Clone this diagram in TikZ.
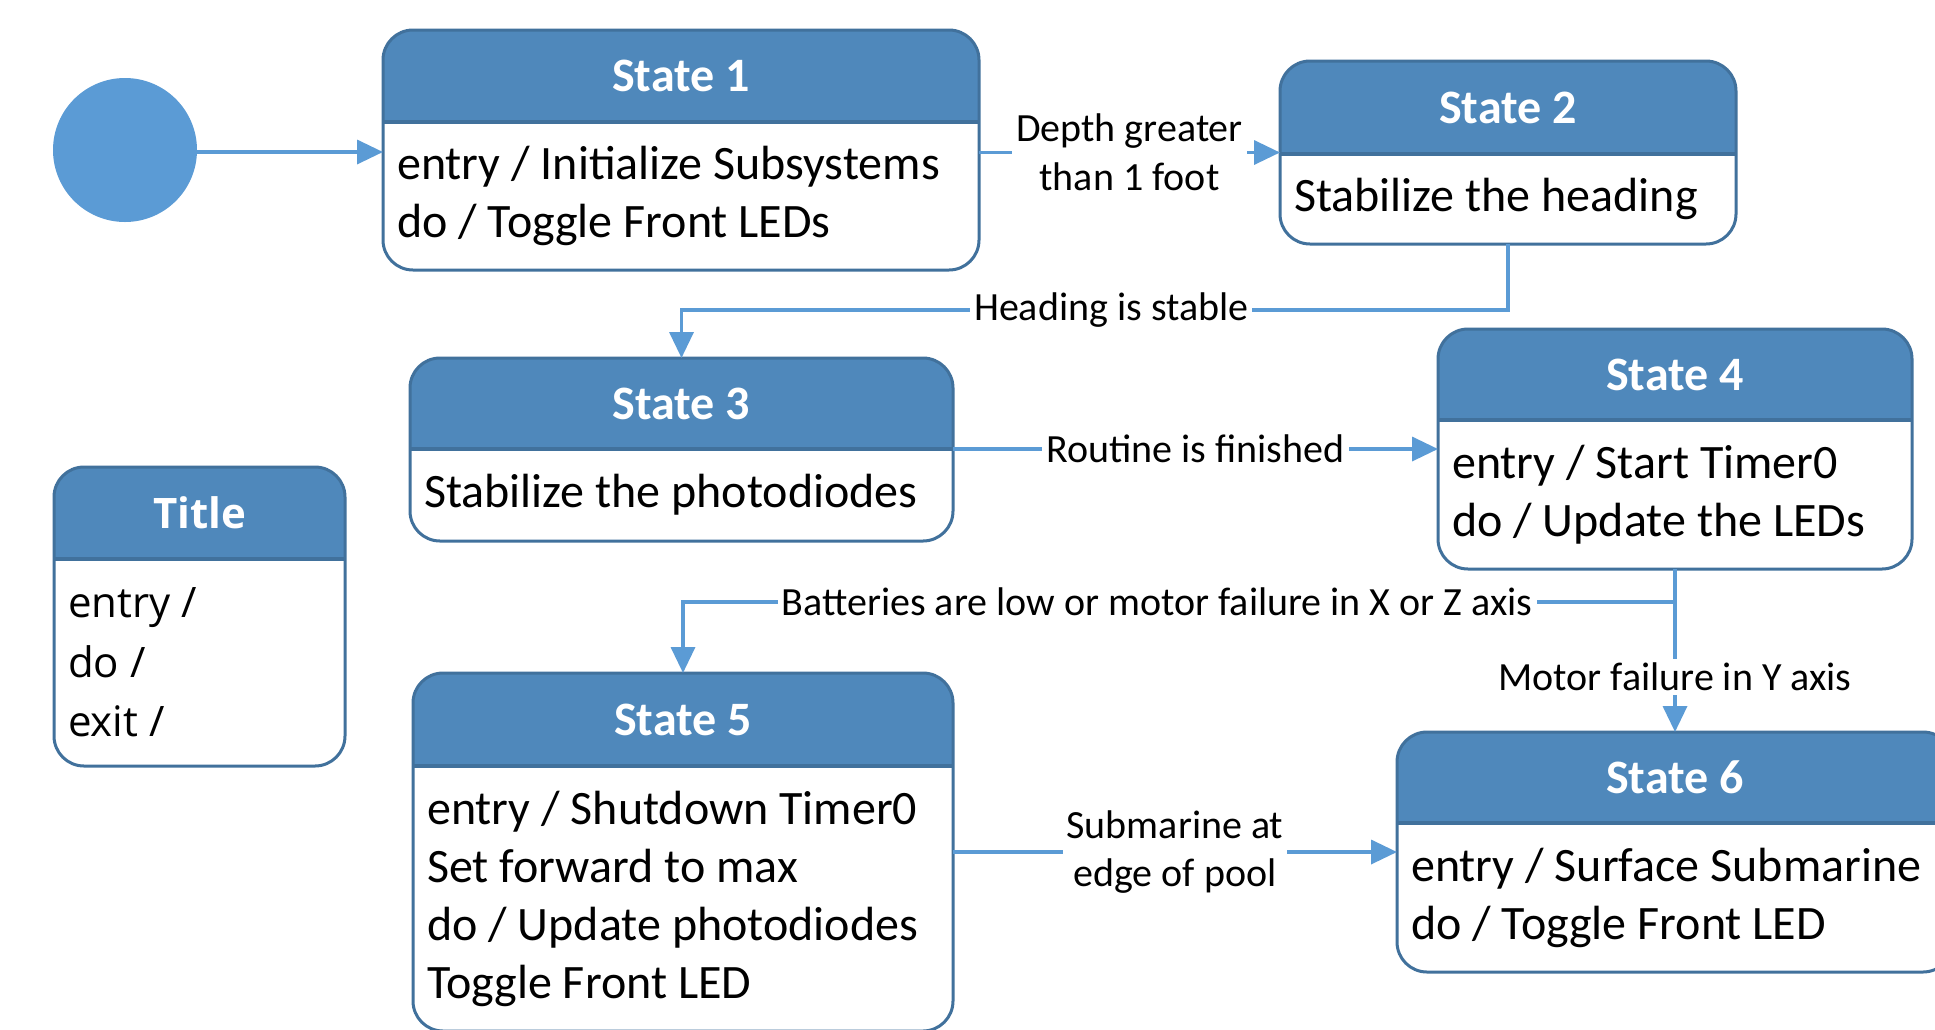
\documentclass[tikz,border=0pt]{standalone}
\usepackage{fontspec}
\setmainfont{Carlito}
\newfontfamily\tfont{Open Sans}
\usetikzlibrary{arrows.meta}
\definecolor{hdr}{HTML}{4F88BB}
\definecolor{bdc}{HTML}{41719C}
\definecolor{lnc}{HTML}{5B9BD5}
\def\rad{30pt}
\tikzset{
  sbox/.style={rectangle, fill=white, rounded corners=\rad, inner sep=0pt, outer sep=0pt},
  s-head/.style={text=white, inner sep=0pt, font=\fontsize{48}{58}\selectfont\bfseries},
  s-body/.style={align=left, inner sep=0pt, font=\fontsize{48}{58}\selectfont},
  t-head/.style={text=white, inner sep=0pt, font=\tfont\fontsize{42}{59.5}\selectfont\bfseries},
  t-body/.style={align=left, inner sep=0pt, font=\tfont\fontsize{42}{59.5}\selectfont},
  arr/.style={draw=lnc, line width=3.5pt, -{Triangle[length=26pt,width=24pt]}},
  lbl/.style={fill=white, inner sep=4pt, align=center, font=\fontsize{40}{48.5}\selectfont},
}
\newcommand\umlstate[9]{%
  \node[sbox, minimum width={(#4-#2)*1pt}, minimum height={(#5-#3)*1pt}] (#1) at ({(#2+#4)/2},{(#3+#5)/2}) {};
  \fill[hdr, rounded corners=\rad] (#2,#3) rectangle (#4,#6);
  \fill[hdr] (#2,{#3+40}) rectangle (#4,#6);
  \draw[bdc, line width=4pt] (#2,#6) -- (#4,#6);
  \draw[bdc, line width=3pt, rounded corners=\rad] (#2,#3) rectangle (#4,#5);
  \node[#9-head] (#1-title) at ({(#2+#4)/2},{(#3+#6)/2}) {#7};
  \node[#9-body, anchor=west] (#1-text) at ({#2+14},{(#6+#5)/2}) {#8};
}
\begin{document}
\begin{tikzpicture}[x=1pt, y=-1pt]
\useasboundingbox (0,0) rectangle (1935,1029);
\fill[white] (0,0) rectangle (1935,1029);

\node[circle, fill=lnc, minimum size=144pt, inner sep=0pt, outer sep=0pt] (init) at (125,150) {};

\umlstate{s1}{383}{30}{979}{270}{122}{State 1}{entry / Initialize Subsystems\\do / Toggle Front LEDs}{s}
\umlstate{s2}{1280}{61}{1736}{244}{154}{State 2}{Stabilize the heading}{s}
\umlstate{s3}{410}{358}{953}{541}{449}{State 3}{Stabilize the photodiodes}{s}
\umlstate{s4}{1438}{329}{1912}{569}{420}{State 4}{entry / Start Timer0\\do / Update the LEDs}{s}
\umlstate{s5}{413}{673}{953}{1031}{766}{State 5}{entry / Shutdown Timer0\\Set forward to max\\do / Update photodiodes\\Toggle Front LED}{s}
\umlstate{s6}{1397}{732}{1953}{972}{823}{State 6}{entry / Surface Submarine\\do / Toggle Front LED}{s}
\umlstate{tt}{54}{467}{345}{766}{559}{Title}{entry /\\do /\\exit /}{t}

\draw[arr] (init.east |- 0,152) -- (s1.west |- 0,152);
\draw[arr] (s1.east |- s2.west) -- node[lbl] {Depth greater\\than 1 foot} (s2.west);
\draw[arr] (s2.south) -- ++(0,66) -| node[lbl, pos=0.24] {Heading is stable} (s3.north);
\draw[arr] (s3.east |- s4.west) -- node[lbl] {Routine is finished} (s4.west);
\coordinate (j) at (s4.south |- 0,602);
\draw[arr] (s4.south) -- node[lbl, pos=0.66] {Motor failure in Y axis} (s6.north);
\draw[arr] (j) -| node[lbl, pos=0.261] {Batteries are low or motor failure in X or Z axis} (s5.north);
\draw[arr] (s5.east |- s6.west) -- node[lbl] {Submarine at\\edge of pool} (s6.west);
\end{tikzpicture}
\end{document}
